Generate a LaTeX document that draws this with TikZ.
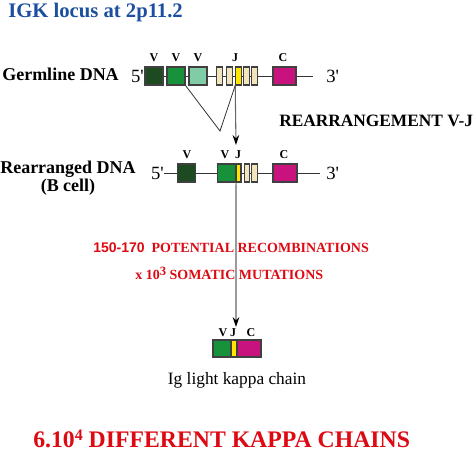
\documentclass[tikz,border=0pt]{standalone}
\usepackage{fontspec}
\setmainfont{Liberation Serif}
\newfontfamily\arialfont{Liberation Sans}
\usepackage{tikz}
\usetikzlibrary{arrows.meta}

\definecolor{titleblue}{HTML}{1C4FA0}
\definecolor{redtext}{HTML}{DD0A14}
\definecolor{vdark}{HTML}{1E4A22}
\definecolor{vgreen}{HTML}{17913A}
\definecolor{vlight}{HTML}{80CCA6}
\definecolor{jbeige}{HTML}{F2E4BC}
\definecolor{jyellow}{HTML}{FFE600}
\definecolor{cmagenta}{HTML}{C8137F}
\newcommand{\pix}{0.75pt}

\tikzset{
  gene/.style={draw=black!75, line width=0.8pt, inner sep=0pt, minimum height=18*\pix},
  seg/.style={gene, minimum width=18*\pix},
  jseg/.style={gene, minimum width=5.5*\pix, fill=jbeige},
  cseg/.style={gene, minimum width=23*\pix, fill=cmagenta},
  tag/.style={font=\bfseries\fontsize{9}{9}\selectfont, inner sep=0pt},
  prime/.style={font=\fontsize{14}{14}\selectfont, inner sep=0pt},
  rowlabel/.style={font=\bfseries\fontsize{13.5}{13.5}\selectfont, inner sep=0pt, align=center},
  redlabel/.style={font=\bfseries\fontsize{10.5}{12}\selectfont, text=redtext, inner sep=0pt, anchor=west},
  link/.style={draw=black!80, line width=0.6pt},
  toarrow/.style={draw=black!60, line width=0.8pt, -{Stealth[length=7.5pt, width=5pt, color=black]}}
}

\begin{document}
\begin{tikzpicture}[x=\pix, y=-\pix]
  \useasboundingbox (0,0) rectangle (476,452);

  \node[anchor=west, inner sep=0pt, text=titleblue, font=\bfseries\fontsize{15.5}{17}\selectfont] (title) at (8,13) {IGK locus at 2p11.2};

  % germline row
  \coordinate (gend) at (313,76);
  \coordinate (apex) at (220,131);
  \coordinate (tipa) at (236,145);

  \node[rowlabel, anchor=west] (germ) at (2,74) {Germline DNA};
  \node[prime, anchor=east] (g5) at (144,76) {5\textquotesingle};
  \node[prime, anchor=west] (g3) at (326,76) {3\textquotesingle};
  \draw[link] (g5.east) -- (gend);

  \node[seg, fill=vdark] (gv1) at (154,76) {};
  \node[seg, fill=vgreen] (gv2) at (176,76) {};
  \node[seg, fill=vlight] (gv3) at (198,76) {};
  \node[jseg] (gj1) at (219.5,76) {};
  \node[jseg] (gj2) at (229.5,76) {};
  \node[jseg, fill=jyellow] (gj3) at (238.5,76) {};
  \node[jseg] (gj4) at (246.5,76) {};
  \node[jseg] (gj5) at (254.5,76) {};
  \node[cseg] (gc) at (284.5,76) {};

  \node[tag] (lgv1) at (154,58) {V};
  \node[tag] (lgv2) at (176,58) {V};
  \node[tag] (lgv3) at (198,58) {V};
  \node[tag] (lgj) at (235,58) {J};
  \node[tag] (lgc) at (283,58) {C};

  \draw[link] (gv2.south east) -- (apex) -- (gj3.south west);
  \draw[toarrow] (gj3.south west) -- (tipa);

  \node[anchor=west, inner sep=0pt, font=\bfseries\fontsize{13}{13}\selectfont] (vj) at (279,121) {REARRANGEMENT V-J};

  % rearranged row
  \coordinate (rend) at (320,173);
  \coordinate (tipb) at (236,327);

  \node[rowlabel] (rearr) at (68,178) {Rearranged DNA\\(B cell)};
  \node[prime, anchor=east] (r5) at (164,173) {5\textquotesingle};
  \node[prime, anchor=west] (r3) at (326,173) {3\textquotesingle};
  \draw[link] (r5.east) -- (rend);

  \node[seg, fill=vdark] (rv1) at (186.5,173) {};
  \node[seg, fill=vgreen] (rv2) at (226.5,173) {};
  \node[jseg, fill=jyellow, minimum width=5*\pix] (rj1) at (238.5,173) {};
  \node[jseg] (rj2) at (247,173) {};
  \node[jseg] (rj3) at (254.5,173) {};
  \node[cseg, minimum width=24*\pix] (rc) at (285,173) {};

  \node[tag] (lrv1) at (187,155) {V};
  \node[tag] (lrv2) at (225,155) {V};
  \node[tag] (lrj) at (238,155) {J};
  \node[tag] (lrc) at (284,155) {C};

  \draw[toarrow] (rv2.south east) -- (tipb);

  \node[redlabel] (recomb) at (93,248) {{\arialfont 150-170}\ \ POTENTIAL RECOMBINATIONS};
  \node[redlabel] (somatic) at (135,273) {x 10\raisebox{0.3em}{\fontsize{9.5}{9.5}\selectfont 3} SOMATIC MUTATIONS};

  % light chain
  \node[seg, fill=vgreen, minimum height=17*\pix] (fv) at (222,348.5) {};
  \node[gene, fill=jyellow, minimum width=6*\pix, minimum height=17*\pix] (fj) at (234,348.5) {};
  \node[cseg, minimum width=24*\pix, minimum height=17*\pix] (fc) at (249,348.5) {};

  \node[tag] (lfv) at (223,333) {V};
  \node[tag] (lfj) at (233,333) {J};
  \node[tag] (lfc) at (251,333) {C};

  \node[inner sep=0pt, font=\fontsize{13}{13}\selectfont] (chain) at (237,380) {Ig light kappa chain};

  \node[anchor=west, inner sep=0pt, text=redtext, font=\bfseries\fontsize{17.8}{18}\selectfont] (total) at (33,439) {6.10\raisebox{0.3em}{\fontsize{12}{12}\selectfont 4} DIFFERENT KAPPA CHAINS};

\end{tikzpicture}
\end{document}
